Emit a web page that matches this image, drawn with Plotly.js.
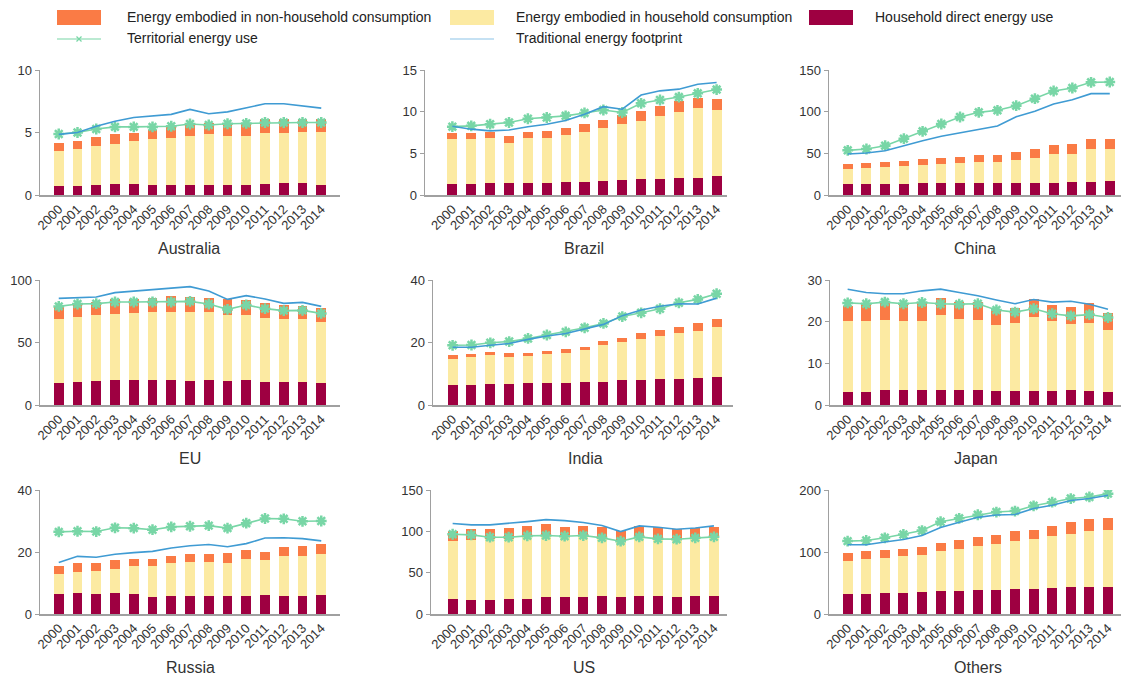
<!DOCTYPE html>
<html>
<head>
<meta charset="utf-8">
<script src="https://cdn.plot.ly/plotly-3.0.1.min.js"></script>
<style>html,body{margin:0;padding:0;background:#fff}#chart{width:1121px;height:676px}</style>
</head>
<body>
<div id="chart"></div>
<script>
const years = ['2000','2001','2002','2003','2004','2005','2006','2007','2008','2009','2010','2011','2012','2013','2014'];
const regions = ['Australia','Brazil','China','EU','India','Japan','Russia','US','Others'];
const seriesNames = ['Energy embodied in non-household consumption','Energy embodied in household consumption','Household direct energy use','Territorial energy use','Traditional energy footprint'];

// Australia
const auDirect = [0.72,0.75,0.8,0.85,0.85,0.8,0.83,0.83,0.83,0.83,0.83,0.85,0.93,0.93,0.83];
const auHousehold = [2.83,2.9,3.1,3.25,3.5,3.65,3.77,3.87,4.02,3.92,3.92,4.15,4.07,4.12,4.22];
const auNonHousehold = [0.65,0.65,0.75,0.75,0.65,0.75,0.85,0.9,0.9,1.05,1.05,1.05,1.05,1.0,1.0];
const auTerritorial = [4.88,5.0,5.28,5.45,5.45,5.45,5.5,5.68,5.6,5.7,5.73,5.8,5.8,5.8,5.8];
const auFootprint = [4.85,5.0,5.5,5.9,6.2,6.35,6.45,6.85,6.5,6.65,6.95,7.3,7.3,7.1,6.95];
// Brazil
const brDirect = [1.3,1.3,1.45,1.5,1.5,1.5,1.6,1.6,1.7,1.75,1.9,1.95,2.1,2.1,2.25];
const brHousehold = [5.4,5.4,5.45,4.8,5.3,5.3,5.6,5.95,6.4,6.75,7.0,7.55,7.9,8.4,7.9];
const brNonHousehold = [0.8,0.8,0.7,0.8,0.8,0.9,0.9,0.95,0.95,1.05,1.2,1.2,1.25,1.2,1.4];
const brTerritorial = [8.2,8.3,8.5,8.7,9.15,9.3,9.5,9.85,10.2,9.9,11.0,11.4,11.75,12.2,12.65];
const brFootprint = [8.25,7.9,7.7,7.8,8.2,8.5,8.95,9.7,10.6,10.3,12.0,12.5,12.7,13.3,13.5];
// China
const cnDirect = [12.8,12.8,12.8,12.8,14,14.4,14.4,14.4,14.4,14.4,14.4,14.8,15.6,16,16.8];
const cnHousehold = [18.4,19.2,21.2,22.4,22,22.4,23.6,25.2,25.2,27.6,30.4,34,34,38.8,38];
const cnNonHousehold = [6,6.8,5.6,5.6,7.2,8,7.2,8.8,8,9.2,10,11.6,11.6,12,12];
const cnTerritorial = [53.6,55.2,59.2,67.6,76.4,85.2,93.6,99.2,101.6,107.2,115.6,124.8,128.4,135.2,135.6];
const cnFootprint = [49.2,50.4,53.2,59.6,65.2,70.4,74.4,78.8,82.8,94,100.4,109.2,114.4,121.6,121.6];
// EU
const euDirect = [17.9,18.7,19.5,20,20,20,20,18.9,19.7,19.2,20,18.4,18.1,18.7,17.3];
const euHousehold = [50.6,51.4,52.5,53,53.9,54.7,54.7,55.2,54.4,52.8,52,50.9,50.4,49.8,49.1];
const euNonHousehold = [10.2,11.2,10.7,11.8,11.2,11.2,12.5,12.6,11.5,12.5,12,12,11.2,11,11.5];
const euTerritorial = [78.9,80.8,81.1,82.4,82.4,82.4,82.4,82.9,80.8,76.5,80,77.1,75.5,75.7,73.3];
const euFootprint = [85.3,86.1,86.4,89.9,91.2,92.5,93.9,94.7,91.2,84.5,87.5,84.8,81.3,82.1,78.9];
// India
const inDirect = [6.3,6.4,6.6,6.8,6.9,7.1,7.1,7.5,7.5,7.9,8.0,8.2,8.4,8.6,9.0];
const inHousehold = [8.5,9.1,9.3,8.7,8.9,9.2,9.5,10.1,11.7,12.2,13.1,13.8,14.5,15.0,15.9];
const inNonHousehold = [1.2,0.9,1.1,1.2,0.8,1.0,1.2,1.1,1.3,1.2,1.8,1.9,2.1,2.5,2.5];
const inTerritorial = [19.1,19.2,19.9,20.3,21.3,22.4,23.4,24.7,26.1,28.3,29.5,30.8,32.7,33.8,35.6];
const inFootprint = [18.5,18.5,19.1,19.7,21,22.1,22.9,24.4,25.8,28.6,30.4,31.6,32.4,32.3,34.2];
// Japan
const jpDirect = [3.1,3.1,3.5,3.5,3.5,3.5,3.5,3.5,3.3,3.3,3.4,3.3,3.5,3.4,3.2];
const jpHousehold = [17.0,17.1,17.0,16.6,16.7,18.1,17.2,17.0,15.8,16.3,17.7,16.8,15.9,16.4,14.7];
const jpNonHousehold = [3.7,4.0,4.2,4.3,4.4,4.1,4.0,4.3,3.9,3.7,4.3,4.0,4.2,4.6,4.3];
const jpTerritorial = [24.5,24.3,24.7,24.3,24.6,24.3,24.2,24.3,22.8,22.3,23.1,21.9,21.4,21.7,21.0];
const jpFootprint = [27.8,27.0,26.7,26.7,27.4,27.8,27.0,26.2,25.2,24.3,25.3,24.7,24.9,24.2,23.0];
// Russia
const ruDirect = [6.5,6.9,6.5,6.9,6.5,5.5,5.8,5.8,5.8,5.7,5.8,6.1,5.8,5.7,6.1];
const ruHousehold = [6.5,6.8,7.5,7.6,8.9,9.9,10.5,11.0,11.0,10.9,11.8,11.2,13.0,13.0,13.2];
const ruNonHousehold = [2.4,2.6,2.6,2.8,2.5,2.5,2.5,2.6,2.6,3.1,2.9,2.8,2.9,3.1,3.2];
const ruTerritorial = [26.5,26.7,26.6,27.8,27.7,27.2,28.1,28.3,28.5,27.7,29.3,30.8,30.7,29.9,30.0];
const ruFootprint = [16.6,18.6,18.3,19.3,19.8,20.2,21.3,22.0,22.4,21.7,22.7,24.5,24.6,24.3,23.6];
// US
const usDirect = [18.1,17.3,17.3,18.5,18.5,20.1,20.1,20.5,21.3,20.1,21.3,21.3,20.1,21.3,21.3];
const usHousehold = [70.0,72.0,73.6,72.4,75.2,74.4,73.6,74.0,70.4,69.6,72.4,71.2,70.8,71.2,73.6];
const usNonHousehold = [12.8,13.2,12.0,13.6,12.9,14.1,12.0,12.5,14.0,10.8,12.9,12.4,11.6,11.2,10.4];
const usTerritorial = [96.5,95.7,92.9,92.9,94.5,94.9,94.1,94.9,92.1,88.1,93.3,90.9,90.5,92.1,93.3];
const usFootprint = [109.4,107.8,107.8,109.4,111.8,114.2,113,110.6,107,99.7,106.6,104.9,102.5,104.1,106.6];
// Others
const otDirect = [31.9,31.9,33.5,34.6,35.6,37.2,37.2,38.8,39.4,40.4,40.4,42.6,43.6,43.6,44.1];
const otHousehold = [54.3,56.9,57.5,58.5,60.1,63.9,67.6,71.3,73.9,77.7,80.3,82.9,86.2,89.9,91.5];
const otNonHousehold = [11.7,12.3,11.7,11.2,12.3,13.3,13.8,13.8,14.9,15.9,15.5,17.1,18.1,19.7,19.7];
const otTerritorial = [117.6,118.6,122.9,128.2,134.6,148.9,154.3,160.1,164.4,166,174.5,180.3,186.2,188.8,194.1];
const otFootprint = [111.7,111.7,116,120.2,126.6,139.4,147.9,155.9,159.6,160.6,170.2,175.5,183,186.2,191.5];

const yTicks = {
  Australia:[0,5,10], Brazil:[0,5,10,15], China:[0,50,100,150],
  EU:[0,50,100], India:[0,20,40], Japan:[0,10,20,30],
  Russia:[0,20,40], US:[0,50,100,150], Others:[0,100,200]
};

const panelData = {
  Australia:[auDirect,auHousehold,auNonHousehold,auTerritorial,auFootprint],
  Brazil:[brDirect,brHousehold,brNonHousehold,brTerritorial,brFootprint],
  China:[cnDirect,cnHousehold,cnNonHousehold,cnTerritorial,cnFootprint],
  EU:[euDirect,euHousehold,euNonHousehold,euTerritorial,euFootprint],
  India:[inDirect,inHousehold,inNonHousehold,inTerritorial,inFootprint],
  Japan:[jpDirect,jpHousehold,jpNonHousehold,jpTerritorial,jpFootprint],
  Russia:[ruDirect,ruHousehold,ruNonHousehold,ruTerritorial,ruFootprint],
  US:[usDirect,usHousehold,usNonHousehold,usTerritorial,usFootprint],
  Others:[otDirect,otHousehold,otNonHousehold,otTerritorial,otFootprint]
};

// layout geometry (pixels)
const W = 1121, H = 676;
const cRed = '#9E0041', cYellow = '#FCEAA2', cOrange = '#FA7B45', cGreen = '#78D6A6', cBlue = '#3F9BD3';
const axisGrey = '#A0A0A0', textCol = '#333333';
const geo = {
  Australia:{x0:40,x1:340,xr:[-1,15],row:0,lx:189},
  Brazil:{x0:425,x1:727,xr:[-1.45,14.55],row:0,lx:584},
  China:{x0:829,x1:1121,xr:[-1.0,14.6],row:0,lx:975},
  EU:{x0:40,x1:340,xr:[-1,15],row:1,lx:190},
  India:{x0:433,x1:733,xr:[-1.04,14.87],row:1,lx:585},
  Japan:{x0:830,x1:1121,xr:[-0.95,14.7],row:1,lx:976},
  Russia:{x0:40,x1:340,xr:[-1,15],row:2,lx:190},
  US:{x0:431,x1:727,xr:[-1.16,14.7],row:2,lx:584},
  Others:{x0:829,x1:1121,xr:[-1.0,14.7],row:2,lx:978}
};
const rows = [{top:70,bot:195},{top:280,bot:405},{top:490,bot:614}];
const px = v => v / W;
const py = v => 1 - v / H;

const traces = [];
const layout = {
  width: W, height: H,
  margin:{l:0,r:0,t:0,b:0},
  paper_bgcolor:'#ffffff', plot_bgcolor:'#ffffff',
  barmode:'stack', bargap:0.47,
  showlegend:false,
  font:{family:'"Liberation Sans", Arial, sans-serif', color:textCol, size:13},
  hovermode:false,
  annotations:[], shapes:[]
};

regions.forEach((r, i) => {
  const n = i + 1;
  const xa = n === 1 ? 'x' : 'x' + n;
  const ya = n === 1 ? 'y' : 'y' + n;
  const d = panelData[r];
  const g = geo[r];
  const rw = rows[g.row];
  traces.push({type:'bar', name:seriesNames[2], x:years, y:d[0], xaxis:xa, yaxis:ya, marker:{color:cRed}});
  traces.push({type:'bar', name:seriesNames[1], x:years, y:d[1], xaxis:xa, yaxis:ya, marker:{color:cYellow}});
  traces.push({type:'bar', name:seriesNames[0], x:years, y:d[2], xaxis:xa, yaxis:ya, marker:{color:cOrange}});
  traces.push({type:'scatter', mode:'lines+markers', name:seriesNames[3], x:years, y:d[3], xaxis:xa, yaxis:ya,
    line:{color:cGreen, width:1.6}, marker:{symbol:'asterisk-open', size:9, color:cGreen, line:{color:cGreen, width:2.5}}});
  traces.push({type:'scatter', mode:'lines', name:seriesNames[4], x:years, y:d[4], xaxis:xa, yaxis:ya,
    line:{color:cBlue, width:1.6}});
  const t = yTicks[r];
  layout[n === 1 ? 'xaxis' : 'xaxis' + n] = {
    domain:[px(g.x0), px(g.x1)], anchor:ya, type:'category', range:g.xr,
    showline:true, linecolor:axisGrey, linewidth:1.5, ticks:'', showgrid:false, zeroline:false,
    tickangle:-45, tickfont:{size:13, color:textCol}, fixedrange:true
  };
  layout[n === 1 ? 'yaxis' : 'yaxis' + n] = {
    domain:[py(rw.bot), py(rw.top)], anchor:xa, range:[0, t[t.length-1]],
    tickvals:t, ticktext:t.map(String),
    showline:true, linecolor:axisGrey, linewidth:1.5, ticks:'outside', ticklen:4, tickcolor:axisGrey, tickwidth:1,
    showgrid:false, zeroline:false, tickfont:{size:13, color:textCol}, fixedrange:true
  };
  layout.annotations.push({text:r, xref:'paper', yref:'paper', x:px(g.lx), y:py(rw.bot + 53),
    xanchor:'center', yanchor:'middle', showarrow:false, font:{size:16, color:textCol}});
});

// manual legend
const legBoxes = [
  {c:cOrange, x0:57, x1:101, tx:125, label:seriesNames[0]},
  {c:cYellow, x0:450, x1:494, tx:514, label:seriesNames[1]},
  {c:cRed, x0:809, x1:853, tx:873, label:seriesNames[2]}
];
legBoxes.forEach(b => {
  layout.shapes.push({type:'rect', xref:'paper', yref:'paper', x0:px(b.x0), x1:px(b.x1), y0:py(25), y1:py(10),
    fillcolor:b.c, line:{width:0}});
  layout.annotations.push({text:b.label, xref:'paper', yref:'paper', x:px(b.tx), y:py(17.5),
    xanchor:'left', yanchor:'middle', showarrow:false, font:{size:14, color:'#222'}});
});
layout.shapes.push({type:'line', xref:'paper', yref:'paper', x0:px(57), x1:px(101), y0:py(39), y1:py(39), line:{color:cGreen, width:1.2}});
layout.shapes.push({type:'line', xref:'paper', yref:'paper', x0:px(76.5), x1:px(81.5), y0:py(36.5), y1:py(41.5), line:{color:cGreen, width:1.2}});
layout.shapes.push({type:'line', xref:'paper', yref:'paper', x0:px(76.5), x1:px(81.5), y0:py(41.5), y1:py(36.5), line:{color:cGreen, width:1.2}});
layout.annotations.push({text:seriesNames[3], xref:'paper', yref:'paper', x:px(125), y:py(38.5),
  xanchor:'left', yanchor:'middle', showarrow:false, font:{size:14, color:'#222'}});
layout.shapes.push({type:'line', xref:'paper', yref:'paper', x0:px(450), x1:px(494), y0:py(39), y1:py(39), line:{color:'#8CC4E8', width:1.2}});
layout.annotations.push({text:seriesNames[4], xref:'paper', yref:'paper', x:px(514), y:py(38.5),
  xanchor:'left', yanchor:'middle', showarrow:false, font:{size:14, color:'#222'}});

Plotly.newPlot('chart', traces, layout, {staticPlot:true, displayModeBar:false});
</script>
</body>
</html>
